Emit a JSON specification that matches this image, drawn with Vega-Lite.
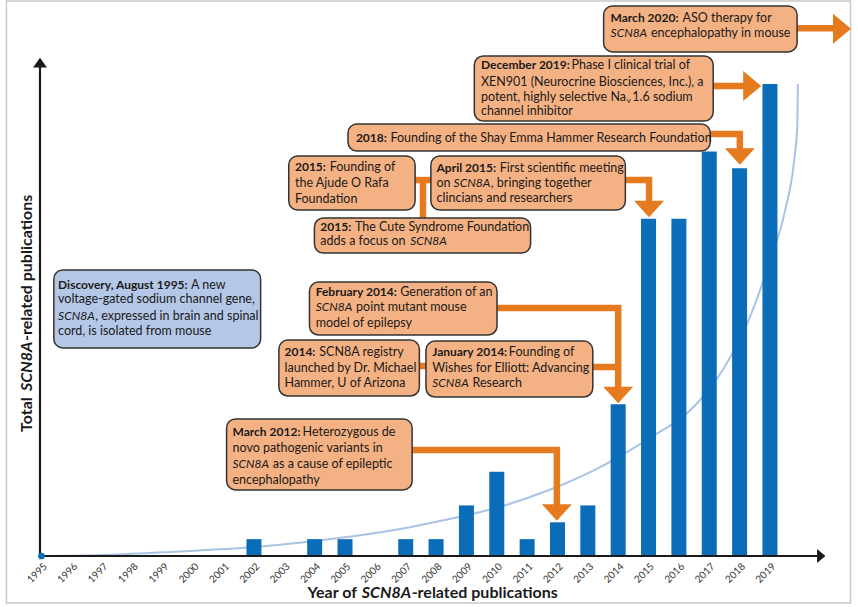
{
  "$schema": "https://vega.github.io/schema/vega-lite/v6.json",
  "width": 787,
  "height": 499,
  "autosize": {"type": "none"},
  "padding": {"left": 35, "top": 57, "right": 36, "bottom": 51},
  "background": "white",
  "config": {"view": {"stroke": null}, "font": "Lato"},
  "datasets": {
    "frame": [{"x": 1993.845, "x2": 2021.656, "y": 32.92, "y2": -2.79}],
    "pubs": [
      {"x": 2002, "y": 1}, {"x": 2004, "y": 1}, {"x": 2005, "y": 1}, {"x": 2007, "y": 1},
      {"x": 2008, "y": 1}, {"x": 2009, "y": 3}, {"x": 2010, "y": 5}, {"x": 2011, "y": 1},
      {"x": 2012, "y": 2}, {"x": 2013, "y": 3}, {"x": 2014, "y": 9}, {"x": 2015, "y": 20},
      {"x": 2016, "y": 20}, {"x": 2017, "y": 24}, {"x": 2018, "y": 23}, {"x": 2019, "y": 28}
    ],
    "curve": [
      {"x": 1995, "y": 0}, {"x": 1997, "y": 0.06}, {"x": 1999, "y": 0.22}, {"x": 2001.78, "y": 0.5},
      {"x": 2003.79, "y": 0.85}, {"x": 2006.82, "y": 1.6}, {"x": 2008.2, "y": 2.1}, {"x": 2010.07, "y": 2.9},
      {"x": 2011.7, "y": 3.9}, {"x": 2013.33, "y": 5.2}, {"x": 2014.95, "y": 6.9}, {"x": 2016.57, "y": 9.0},
      {"x": 2017.5, "y": 11.2}, {"x": 2018.3, "y": 14}, {"x": 2019.0, "y": 17.5}, {"x": 2019.5, "y": 20.5},
      {"x": 2019.8, "y": 23.5}, {"x": 2019.9, "y": 25.5}, {"x": 2019.92, "y": 28}
    ],
    "axes": [
      {"x": 1994.951, "y": 0, "x2": 2020.55, "y2": 0},
      {"x": 1994.951, "y": 0, "x2": 1994.951, "y2": 29.1}
    ],
    "axisHeads": [
      {"x": 1994.951, "y": 29.27, "dir": "up"},
      {"x": 2020.69, "y": 0, "dir": "right"}
    ],
    "origin": [{"x": 1995, "y": 0}],
    "shafts": [
      {"id": "A", "o": 1, "x": 2019.894, "y": 31.3}, {"id": "A", "o": 2, "x": 2021.2, "y": 31.3},
      {"id": "B", "o": 1, "x": 2017.13, "y": 27.88}, {"id": "B", "o": 2, "x": 2018.25, "y": 27.88},
      {"id": "C", "o": 1, "x": 2017.033, "y": 25.03}, {"id": "C", "o": 2, "x": 2018.008, "y": 25.03}, {"id": "C", "o": 3, "x": 2018.008, "y": 23.9},
      {"id": "D", "o": 1, "x": 2014.236, "y": 22.3}, {"id": "D", "o": 2, "x": 2015.016, "y": 22.3}, {"id": "D", "o": 3, "x": 2015.016, "y": 20.8},
      {"id": "E", "o": 1, "x": 2010.008, "y": 14.71}, {"id": "E", "o": 2, "x": 2014.0, "y": 14.71}, {"id": "E", "o": 3, "x": 2014.0, "y": 9.8},
      {"id": "E2", "o": 1, "x": 2013.163, "y": 11.21}, {"id": "E2", "o": 2, "x": 2014.0, "y": 11.21},
      {"id": "E3", "o": 1, "x": 2007.407, "y": 11.27}, {"id": "E3", "o": 2, "x": 2007.667, "y": 11.27},
      {"id": "F1", "o": 1, "x": 2007.309, "y": 22.3}, {"id": "F1", "o": 2, "x": 2007.829, "y": 22.3},
      {"id": "F2", "o": 1, "x": 2007.569, "y": 22.3}, {"id": "F2", "o": 2, "x": 2007.569, "y": 20.05},
      {"id": "G", "o": 1, "x": 2007.211, "y": 6.29}, {"id": "G", "o": 2, "x": 2011.98, "y": 6.29}, {"id": "G", "o": 3, "x": 2011.98, "y": 2.8}
    ],
    "heads": [
      {"x": 2021.374, "y": 31.28, "dir": "right"},
      {"x": 2018.415, "y": 27.88, "dir": "right"},
      {"x": 2018.008, "y": 23.7, "dir": "down"},
      {"x": 2015.016, "y": 20.58, "dir": "down"},
      {"x": 2014.0, "y": 9.55, "dir": "down"},
      {"x": 2011.98, "y": 2.58, "dir": "down"}
    ],
    "boxes": [
      {"x": 2013.52, "x2": 2019.894, "y": 32.63, "y2": 29.9, "k": "o"},
      {"x": 2009.26, "x2": 2017.13, "y": 29.66, "y2": 25.8, "k": "o"},
      {"x": 2005.098, "x2": 2017.033, "y": 25.63, "y2": 24.02, "k": "o"},
      {"x": 2003.146, "x2": 2007.309, "y": 23.73, "y2": 20.52, "k": "o"},
      {"x": 2007.829, "x2": 2014.236, "y": 23.73, "y2": 20.52, "k": "o"},
      {"x": 2003.992, "x2": 2011.114, "y": 20.05, "y2": 17.97, "k": "o"},
      {"x": 1995.407, "x2": 2002.22, "y": 16.97, "y2": 12.34, "k": "b"},
      {"x": 2003.829, "x2": 2010.008, "y": 16.25, "y2": 13.11, "k": "o"},
      {"x": 2002.821, "x2": 2007.45, "y": 12.81, "y2": 9.49, "k": "o"},
      {"x": 2007.667, "x2": 2013.163, "y": 12.75, "y2": 9.43, "k": "o"},
      {"x": 2001.098, "x2": 2007.211, "y": 8.13, "y2": 3.92, "k": "o"}
    ],
    "txt": [
      {"x": 2013.748, "y": 31.91, "t": "March 2020:", "s": "b"},
      {"x": 2016.122, "y": 31.91, "t": "ASO therapy for", "s": "n"},
      {"x": 2013.748, "y": 31.01, "t": "SCN8A", "s": "i"},
      {"x": 2015.078, "y": 31.01, "t": "encephalopathy in mouse", "s": "n"},
      {"x": 2009.478, "y": 29.13, "t": "December 2019:", "s": "b"},
      {"x": 2012.463, "y": 29.13, "t": "Phase I clinical trial of", "s": "n"},
      {"x": 2009.478, "y": 28.14, "t": "XEN901 (Neurocrine Biosciences, Inc.), a", "s": "n"},
      {"x": 2009.478, "y": 27.25, "t": "potent, highly selective Na", "s": "n"},
      {"x": 2014.285, "y": 26.99, "t": "v", "s": "sub"},
      {"x": 2014.463, "y": 27.25, "t": "1.6 sodium", "s": "n"},
      {"x": 2009.478, "y": 26.4, "t": "channel inhibitor", "s": "n"},
      {"x": 2005.358, "y": 24.81, "t": "2018:", "s": "b"},
      {"x": 2006.496, "y": 24.81, "t": "Founding of the Shay Emma Hammer Research Foundation", "s": "n"},
      {"x": 2003.351, "y": 23.09, "t": "2015:", "s": "b"},
      {"x": 2004.496, "y": 23.09, "t": "Founding of", "s": "n"},
      {"x": 2003.351, "y": 22.11, "t": "the Ajude O Rafa", "s": "n"},
      {"x": 2003.351, "y": 21.18, "t": "Foundation", "s": "n"},
      {"x": 2008.015, "y": 23.03, "t": "April 2015:", "s": "b"},
      {"x": 2010.096, "y": 23.03, "t": "First scientific meeting", "s": "n"},
      {"x": 2008.015, "y": 22.11, "t": "on", "s": "n"},
      {"x": 2008.577, "y": 22.11, "t": "SCN8A", "s": "i"},
      {"x": 2009.803, "y": 22.11, "t": ", bringing together", "s": "n"},
      {"x": 2008.015, "y": 21.22, "t": "clincians and researchers", "s": "n"},
      {"x": 2004.187, "y": 19.53, "t": "2015:", "s": "b"},
      {"x": 2005.325, "y": 19.53, "t": "The Cute Syndrome Foundation", "s": "n"},
      {"x": 2004.187, "y": 18.66, "t": "adds a focus on", "s": "n"},
      {"x": 2007.146, "y": 18.66, "t": "SCN8A", "s": "i"},
      {"x": 1995.546, "y": 16.08, "t": "Discovery, August 1995:", "s": "b"},
      {"x": 1999.927, "y": 16.08, "t": "A new", "s": "n"},
      {"x": 1995.546, "y": 15.23, "t": "voltage-gated sodium channel gene,", "s": "n"},
      {"x": 1995.546, "y": 14.25, "t": "SCN8A", "s": "i"},
      {"x": 1996.772, "y": 14.25, "t": ", expressed in brain and spinal", "s": "n"},
      {"x": 1995.546, "y": 13.35, "t": "cord, is isolated from mouse", "s": "n"},
      {"x": 2004.034, "y": 15.68, "t": "February 2014:", "s": "b"},
      {"x": 2006.821, "y": 15.68, "t": "Generation of an", "s": "n"},
      {"x": 2004.034, "y": 14.79, "t": "SCN8A", "s": "i"},
      {"x": 2005.364, "y": 14.79, "t": "point mutant mouse", "s": "n"},
      {"x": 2004.034, "y": 13.84, "t": "model of epilepsy", "s": "n"},
      {"x": 2003.007, "y": 12.12, "t": "2014:", "s": "b"},
      {"x": 2004.154, "y": 12.12, "t": "SCN8A registry", "s": "n"},
      {"x": 2003.007, "y": 11.13, "t": "launched by Dr. Michael", "s": "n"},
      {"x": 2003.007, "y": 10.24, "t": "Hammer, U of Arizona", "s": "n"},
      {"x": 2007.872, "y": 12.12, "t": "January 2014:", "s": "b"},
      {"x": 2010.398, "y": 12.12, "t": "Founding of", "s": "n"},
      {"x": 2007.872, "y": 11.13, "t": "Wishes for Elliott: Advancing", "s": "n"},
      {"x": 2007.872, "y": 10.24, "t": "SCN8A", "s": "i"},
      {"x": 2009.202, "y": 10.24, "t": "Research", "s": "n"},
      {"x": 2001.293, "y": 7.37, "t": "March 2012:", "s": "b"},
      {"x": 2003.602, "y": 7.37, "t": "Heterozygous de", "s": "n"},
      {"x": 2001.293, "y": 6.42, "t": "novo pathogenic variants in", "s": "n"},
      {"x": 2001.293, "y": 5.44, "t": "SCN8A", "s": "i"},
      {"x": 2002.623, "y": 5.44, "t": "as a cause of epileptic", "s": "n"},
      {"x": 2001.293, "y": 4.51, "t": "encephalopathy", "s": "n"}
    ],
    "titles": [
      {"x": 2003.764, "y": -2.19, "t": "Year of", "s": "xb"},
      {"x": 2005.553, "y": -2.19, "t": "SCN8A", "s": "xbi"},
      {"x": 2007.195, "y": -2.19, "t": "-related publications", "s": "xb"},
      {"x": 1994.528, "y": 7.36, "t": "Total", "s": "yb"},
      {"x": 1994.528, "y": 9.79, "t": "SCN8A", "s": "ybi"},
      {"x": 1994.528, "y": 12.76, "t": "-related publications", "s": "yb"}
    ]
  },
  "encoding": {
    "x": {
      "field": "x", "type": "quantitative",
      "scale": {"domain": [1994.951, 2020.55], "nice": false, "zero": false},
      "axis": {
        "values": [1995, 1996, 1997, 1998, 1999, 2000, 2001, 2002, 2003, 2004, 2005, 2006, 2007, 2008, 2009, 2010, 2011, 2012, 2013, 2014, 2015, 2016, 2017, 2018, 2019],
        "format": "d", "labelAngle": -45, "labelFontSize": 10, "labelColor": "#333333",
        "labelFont": "Lato", "domain": false, "ticks": false, "grid": false, "title": null,
        "labelPadding": 5, "labelFlush": false, "labelOverlap": false, "zindex": 1
      }
    },
    "y": {
      "field": "y", "type": "quantitative",
      "scale": {"domain": [0, 29.6], "nice": false, "zero": false},
      "axis": null
    }
  },
  "layer": [
    {
      "data": {"name": "frame"},
      "mark": {"type": "rect", "filled": false, "stroke": "#c8c8c8", "strokeWidth": 1.5},
      "encoding": {"x2": {"field": "x2"}, "y2": {"field": "y2"}}
    },
    {
      "data": {"name": "curve"},
      "mark": {"type": "line", "interpolate": "monotone", "color": "#a9c3e6", "strokeWidth": 2}
    },
    {
      "data": {"name": "pubs"},
      "mark": {"type": "bar", "orient": "vertical", "width": 15, "color": "#0b6db8"}
    },
    {
      "data": {"name": "axes"},
      "mark": {"type": "rule", "color": "#1a1a1a", "strokeWidth": 2.2},
      "encoding": {"x2": {"field": "x2"}, "y2": {"field": "y2"}}
    },
    {
      "data": {"name": "axisHeads"},
      "mark": {"type": "point", "filled": true, "size": 196, "color": "#1a1a1a", "opacity": 1},
      "encoding": {
        "shape": {"field": "dir", "type": "nominal", "legend": null,
          "scale": {"domain": ["up", "right", "down"], "range": ["M-1,0.7L0,-0.7L1,0.7Z", "M-0.6,-1L0.6,0L-0.6,1Z", "M-1,-0.55L1,-0.55L0,0.55Z"]}}
      }
    },
    {
      "data": {"name": "origin"},
      "mark": {"type": "point", "filled": true, "shape": "circle", "size": 45, "color": "#0b6db8", "opacity": 1}
    },
    {
      "data": {"name": "shafts"},
      "mark": {"type": "line", "color": "#e67a1f", "strokeWidth": 6.5, "strokeCap": "butt", "strokeJoin": "miter"},
      "encoding": {"detail": {"field": "id"}, "order": {"field": "o"}}
    },
    {
      "data": {"name": "heads"},
      "mark": {"type": "point", "filled": true, "size": 900, "color": "#e67a1f", "opacity": 1},
      "encoding": {
        "shape": {"field": "dir", "type": "nominal", "legend": null,
          "scale": {"domain": ["up", "right", "down"], "range": ["M-1,0.7L0,-0.7L1,0.7Z", "M-0.6,-1L0.6,0L-0.6,1Z", "M-1,-0.55L1,-0.55L0,0.55Z"]}}
      }
    },
    {
      "data": {"name": "boxes"},
      "mark": {"type": "rect", "cornerRadius": 9, "stroke": "#333333", "strokeWidth": 1.5},
      "encoding": {
        "x2": {"field": "x2"}, "y2": {"field": "y2"},
        "fill": {"field": "k", "type": "nominal", "legend": null,
          "scale": {"domain": ["o", "b"], "range": ["#f4b183", "#b4c7e7"]}}
      }
    },
    {
      "data": {"name": "txt"},
      "transform": [{"filter": "datum.s === 'n'"}],
      "mark": {"type": "text", "align": "left", "baseline": "middle", "fontSize": 12.5, "font": "Lato", "color": "#1a1a1a"},
      "encoding": {"text": {"field": "t"}}
    },
    {
      "data": {"name": "txt"},
      "transform": [{"filter": "datum.s === 'b'"}],
      "mark": {"type": "text", "align": "left", "baseline": "middle", "fontSize": 12, "font": "Lato", "fontWeight": "bold", "color": "#1a1a1a"},
      "encoding": {"text": {"field": "t"}}
    },
    {
      "data": {"name": "txt"},
      "transform": [{"filter": "datum.s === 'i'"}],
      "mark": {"type": "text", "align": "left", "baseline": "middle", "fontSize": 12, "font": "Lato", "fontStyle": "italic", "color": "#1a1a1a"},
      "encoding": {"text": {"field": "t"}}
    },
    {
      "data": {"name": "txt"},
      "transform": [{"filter": "datum.s === 'sub'"}],
      "mark": {"type": "text", "align": "left", "baseline": "middle", "fontSize": 8, "font": "Lato", "color": "#1a1a1a"},
      "encoding": {"text": {"field": "t"}}
    },
    {
      "data": {"name": "titles"},
      "transform": [{"filter": "datum.s === 'xb'"}],
      "mark": {"type": "text", "align": "left", "baseline": "middle", "fontSize": 16, "font": "Lato", "fontWeight": "bold", "color": "#1a1a1a"},
      "encoding": {"text": {"field": "t"}}
    },
    {
      "data": {"name": "titles"},
      "transform": [{"filter": "datum.s === 'xbi'"}],
      "mark": {"type": "text", "align": "left", "baseline": "middle", "fontSize": 16, "font": "Lato", "fontWeight": "bold", "fontStyle": "italic", "color": "#1a1a1a"},
      "encoding": {"text": {"field": "t"}}
    },
    {
      "data": {"name": "titles"},
      "transform": [{"filter": "datum.s === 'yb'"}],
      "mark": {"type": "text", "align": "left", "baseline": "middle", "angle": 270, "fontSize": 16, "font": "Lato", "fontWeight": "bold", "color": "#1a1a1a"},
      "encoding": {"text": {"field": "t"}}
    },
    {
      "data": {"name": "titles"},
      "transform": [{"filter": "datum.s === 'ybi'"}],
      "mark": {"type": "text", "align": "left", "baseline": "middle", "angle": 270, "fontSize": 16, "font": "Lato", "fontWeight": "bold", "fontStyle": "italic", "color": "#1a1a1a"},
      "encoding": {"text": {"field": "t"}}
    }
  ]
}
